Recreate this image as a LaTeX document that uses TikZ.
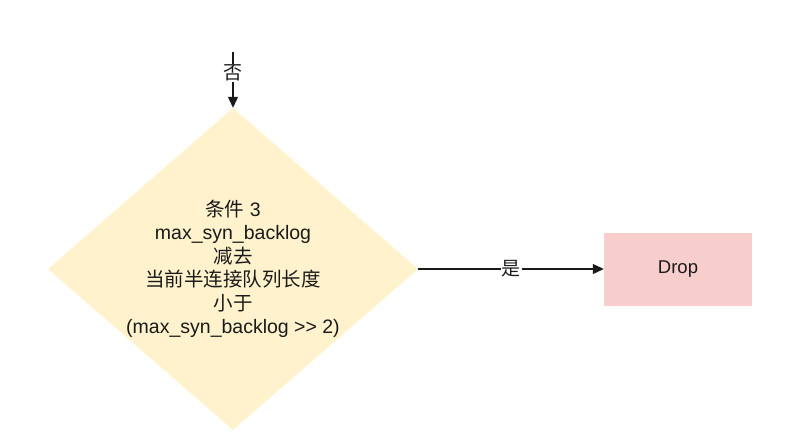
\documentclass[tikz,border=0pt]{standalone}
\usepackage{fontspec}
\setmainfont{Liberation Sans}
\newfontfamily\cjk{Noto Sans CJK SC}
\usetikzlibrary{shapes.geometric,arrows.meta}
\definecolor{dfill}{HTML}{FFF2CC}
\definecolor{rfill}{HTML}{F8CECC}
\definecolor{ink}{HTML}{1A1A1A}
\tikzset{
  decision/.style={diamond, fill=dfill, draw=none, minimum width=370pt, minimum height=322pt, inner sep=0pt},
  endbox/.style={rectangle, fill=rfill, draw=none, minimum width=148pt, minimum height=73pt, inner sep=0pt, text=ink, font=\fontsize{18.5pt}{20pt}\selectfont},
  body/.style={align=center, font=\fontsize{19.5pt}{23.5pt}\selectfont, text=ink},
  flow/.style={draw=ink, line width=1.1pt, -{Triangle[length=11pt,width=10pt]}},
  edgelabel/.style={fill=white, inner sep=1pt, text=ink, font=\cjk\fontsize{19pt}{20pt}\selectfont}
}
\begin{document}
\begin{tikzpicture}[x=1pt,y=-1pt]
\useasboundingbox (0,0) rectangle (798,436);
\node[decision] (dec) at (233,269) {};
\node[body] (dectext) at (233,269) {{\cjk 条件} 3\\max\_syn\_backlog\\{\cjk 减去}\\{\cjk 当前半连接队列长度}\\{\cjk 小于}\\(max\_syn\_backlog >{}> 2)};
\node[endbox] (drop) at (678,269) {Drop};
\coordinate (top) at (233,52);
\draw[flow] (top) -- node[edgelabel, pos=0.38] {否} (dec.north);
\draw[flow] (dec.east) -- node[edgelabel, pos=0.5] {是} (drop.west);
\end{tikzpicture}
\end{document}
